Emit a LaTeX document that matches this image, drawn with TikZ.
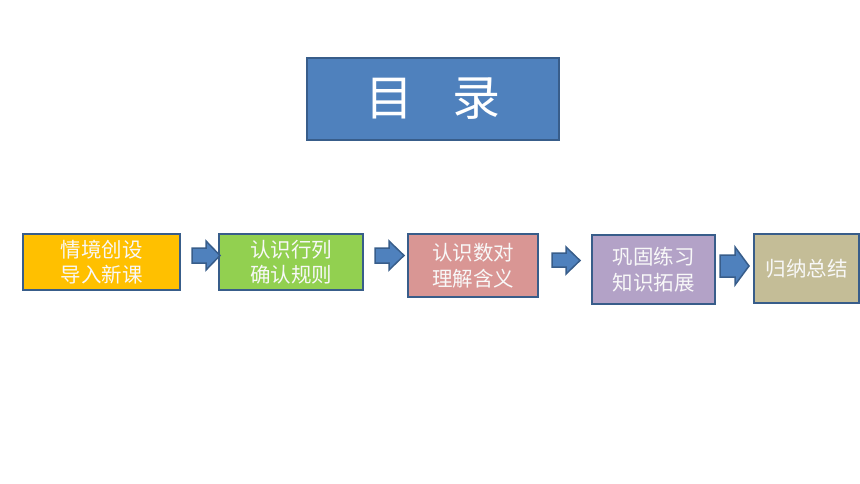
\documentclass[tikz,border=0pt]{standalone}
\usepackage{fontspec}
\newfontfamily\cjk{Noto Sans CJK SC}
\definecolor{titleblue}{HTML}{4F81BD}
\definecolor{edgeblue}{HTML}{385D8A}
\definecolor{cA}{HTML}{FFC000}
\definecolor{cB}{HTML}{92D050}
\definecolor{cC}{HTML}{D99694}
\definecolor{cD}{HTML}{B3A2C7}
\definecolor{cE}{HTML}{C4BD97}
\definecolor{txt}{HTML}{F8F8F8}
\tikzset{
  stepbox/.style={draw=edgeblue, line width=1.8pt, inner sep=0pt, text=txt,
    align=center, font=\cjk\fontsize{20.5}{25.5}\selectfont},
  blockarrow/.style={draw=edgeblue, line width=1.5pt, fill=titleblue, line join=miter}
}
\begin{document}
\begin{tikzpicture}[x=1pt,y=-1pt]
\useasboundingbox (0,0) rectangle (860,484);
\node[stepbox, fill=titleblue, text=white, minimum width=252pt, minimum height=82pt,
  font=\cjk\fontsize{48}{50}\selectfont] (title) at (433,99) {目\hspace{40pt}录};
\node[stepbox, fill=cA, minimum width=157pt, minimum height=56pt] (b1) at (101.5,262) {情境创设\\导入新课};
\node[stepbox, fill=cB, minimum width=144pt, minimum height=56pt] (b2) at (291,262) {认识行列\\确认规则};
\node[stepbox, fill=cC, minimum width=130pt, minimum height=63pt] (b3) at (473,265.5) {认识数对\\理解含义};
\node[stepbox, fill=cD, minimum width=123pt, minimum height=69pt] (b4) at (653.5,269.5) {巩固练习\\知识拓展};
\node[stepbox, fill=cE, minimum width=105pt, minimum height=69pt] (b5) at (806.5,268.5) {归纳总结};
% block arrows
\draw[blockarrow] (192,248) -- (206,248) -- (206,241) -- (220,255.5) -- (206,270) -- (206,263) -- (192,263) -- cycle;
\draw[blockarrow] (375,248) -- (389,248) -- (389,241) -- (404,255.5) -- (389,270) -- (389,263) -- (375,263) -- cycle;
\draw[blockarrow] (552,253) -- (566,253) -- (566,247) -- (580,260.5) -- (566,274) -- (566,267) -- (552,267) -- cycle;
\draw[blockarrow] (720,255) -- (735,255) -- (735,247) -- (749,266) -- (735,285) -- (735,277) -- (720,277) -- cycle;
\end{tikzpicture}
\end{document}
